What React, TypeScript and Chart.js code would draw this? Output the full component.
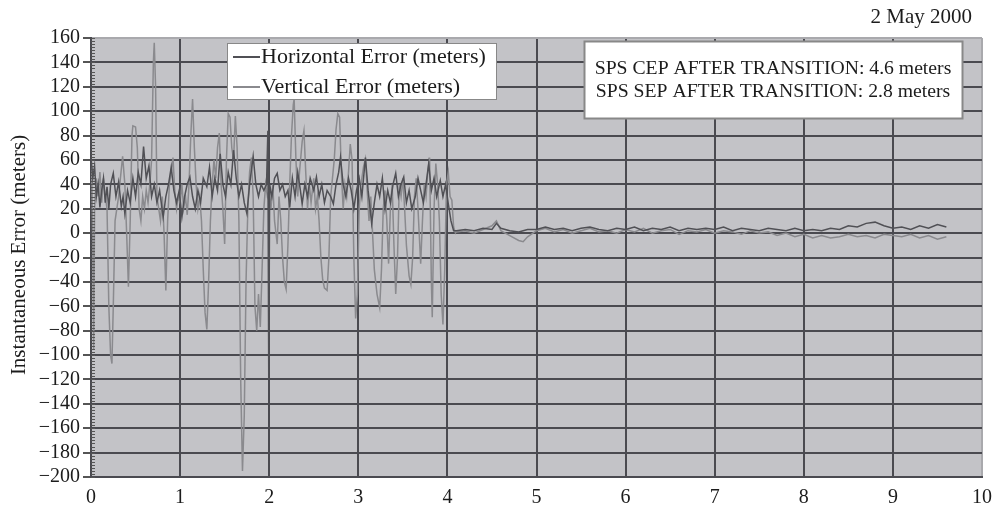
import React, { useEffect, useRef } from "react";
import { Chart, registerables } from "chart.js";

Chart.register(...registerables);

const FONT = "'Liberation Serif', 'Times New Roman', serif";

const chartDate = "2 May 2000";
const yAxisTitle = "Instantaneous Error (meters)";
const seriesNames = ["Horizontal Error (meters)", "Vertical Error (meters)"];
const noteLines = [
  "SPS CEP AFTER TRANSITION: 4.6 meters",
  "SPS SEP AFTER TRANSITION: 2.8 meters",
];
const xTicks = [0, 1, 2, 3, 4, 5, 6, 7, 8, 9, 10];
const yTicks = [160, 140, 120, 100, 80, 60, 40, 20, 0, -20, -40, -60, -80, -100, -120, -140, -160, -180, -200];

// [hours, meters]
const horizontalError: [number, number][] = [
  [0.0, 62], [0.02, 45], [0.04, 55], [0.06, 30], [0.08, 40], [0.1, 21], [0.12, 35], [0.14, 45], [0.16, 25], [0.18, 38],
  [0.2, 20], [0.22, 40], [0.25, 49], [0.28, 30], [0.31, 42], [0.34, 22], [0.36, 30], [0.38, 16], [0.41, 35], [0.44, 25],
  [0.47, 45], [0.5, 30], [0.53, 50], [0.56, 40], [0.59, 71], [0.62, 45], [0.65, 55], [0.68, 30], [0.71, 40], [0.74, 25],
  [0.77, 35], [0.81, 13], [0.84, 30], [0.87, 40], [0.9, 54], [0.93, 35], [0.96, 25], [0.99, 35], [1.02, 13], [1.05, 30],
  [1.08, 40], [1.11, 46], [1.14, 30], [1.17, 20], [1.2, 35], [1.23, 25], [1.26, 45], [1.3, 38], [1.33, 54], [1.36, 30],
  [1.39, 45], [1.42, 35], [1.45, 65], [1.48, 40], [1.51, 30], [1.54, 50], [1.57, 40], [1.6, 68], [1.63, 45], [1.66, 30],
  [1.69, 40], [1.72, 25], [1.75, 16], [1.78, 40], [1.82, 63], [1.85, 40], [1.88, 30], [1.91, 40], [1.94, 35], [1.97, 40],
  [1.985, 84], [1.995, -120], [2.005, 40], [2.03, 30], [2.06, 45], [2.09, 49], [2.12, 35], [2.15, 40], [2.18, 30], [2.21, 35],
  [2.23, 21], [2.26, 45], [2.29, 30], [2.32, 50], [2.35, 35], [2.37, 24], [2.4, 40], [2.43, 30], [2.46, 45], [2.5, 35],
  [2.53, 46], [2.56, 30], [2.59, 40], [2.62, 25], [2.65, 35], [2.69, 30], [2.72, 24], [2.75, 40], [2.78, 50], [2.8, 62],
  [2.83, 40], [2.86, 30], [2.89, 45], [2.92, 35], [2.95, 20], [2.98, 35], [3.01, 45], [3.04, 30], [3.08, 62], [3.11, 35],
  [3.15, 8], [3.18, 25], [3.21, 40], [3.24, 30], [3.27, 45], [3.3, 20], [3.33, 35], [3.36, 25], [3.39, 40], [3.42, 49],
  [3.45, 30], [3.48, 40], [3.51, 46], [3.54, 25], [3.57, 35], [3.6, 20], [3.64, 30], [3.67, 45], [3.7, 35], [3.73, 25],
  [3.76, 40], [3.79, 57], [3.82, 35], [3.85, 45], [3.88, 30], [3.92, 43], [3.95, 30], [3.98, 40], [4.01, 24], [4.04, 10],
  [4.07, 2], [4.1, 2], [4.2, 3], [4.3, 2], [4.4, 4], [4.5, 3], [4.55, 8], [4.6, 4], [4.7, 2], [4.8, 1],
  [4.9, 3], [5.0, 3], [5.1, 5], [5.2, 3], [5.3, 4], [5.4, 2], [5.5, 4], [5.6, 5], [5.7, 3], [5.8, 2],
  [5.9, 4], [6.0, 3], [6.1, 5], [6.2, 2], [6.3, 4], [6.4, 3], [6.5, 5], [6.6, 2], [6.7, 4], [6.8, 3],
  [6.9, 4], [7.0, 3], [7.1, 5], [7.2, 2], [7.3, 4], [7.4, 3], [7.5, 2], [7.6, 4], [7.7, 3], [7.8, 2],
  [7.9, 4], [8.0, 2], [8.1, 3], [8.2, 2], [8.3, 4], [8.4, 3], [8.5, 6], [8.6, 5], [8.7, 8], [8.8, 9],
  [8.9, 6], [9.0, 4], [9.1, 5], [9.2, 3], [9.3, 6], [9.4, 4], [9.5, 7], [9.6, 5],
];

const verticalError: [number, number][] = [
  [0.0, 55], [0.01, 40], [0.02, -10], [0.03, -95], [0.04, 20], [0.06, 45], [0.08, 30], [0.1, 50], [0.12, 25], [0.14, 45],
  [0.16, 30], [0.18, 20], [0.2, -60], [0.22, -100], [0.235, -107], [0.25, -60], [0.27, 10], [0.29, 20], [0.31, 30], [0.33, 45],
  [0.355, 63], [0.38, 40], [0.4, 0], [0.42, -44], [0.44, 10], [0.46, 80], [0.47, 88], [0.5, 87], [0.52, 70], [0.54, 20],
  [0.56, 10], [0.58, 30], [0.6, 20], [0.62, 35], [0.64, 25], [0.66, 40], [0.68, 60], [0.7, 140], [0.71, 156], [0.725, 120],
  [0.74, 30], [0.76, 20], [0.78, 10], [0.8, 30], [0.82, 0], [0.84, -47], [0.86, 10], [0.88, 40], [0.9, 50], [0.92, 62],
  [0.94, 35], [0.96, 20], [0.98, 30], [1.0, 25], [1.02, 40], [1.04, 20], [1.06, 30], [1.08, 15], [1.1, 40], [1.12, 80],
  [1.14, 110], [1.16, 70], [1.18, 40], [1.2, 20], [1.22, 30], [1.24, 10], [1.26, -30], [1.28, -65], [1.3, -79], [1.32, -40],
  [1.34, 10], [1.36, 40], [1.38, 60], [1.4, 45], [1.42, 70], [1.44, 82], [1.46, 40], [1.48, 20], [1.5, -9], [1.52, 60],
  [1.54, 98], [1.56, 95], [1.58, 70], [1.6, 60], [1.62, 96], [1.64, 70], [1.66, 10], [1.68, -120], [1.7, -195], [1.72, -150],
  [1.74, -40], [1.76, 20], [1.78, 50], [1.8, 62], [1.82, 30], [1.84, -60], [1.86, -80], [1.88, -50], [1.9, -77], [1.92, -30],
  [1.94, 20], [1.96, 40], [1.98, 30], [2.0, 35], [2.02, 20], [2.04, 40], [2.06, 10], [2.09, -9], [2.11, 30], [2.13, 10],
  [2.15, -20], [2.17, -40], [2.19, -46], [2.21, -10], [2.23, 40], [2.25, 80], [2.27, 105], [2.28, 110], [2.3, 60], [2.32, 30],
  [2.34, 50], [2.37, 75], [2.39, 84], [2.41, 50], [2.43, 20], [2.45, 40], [2.47, 25], [2.5, 45], [2.52, 20], [2.54, 30],
  [2.56, 10], [2.58, -20], [2.6, -38], [2.62, -45], [2.65, -47], [2.67, -20], [2.69, 30], [2.71, 45], [2.73, 60], [2.75, 85],
  [2.77, 98], [2.79, 95], [2.81, 50], [2.83, 20], [2.85, 40], [2.87, 30], [2.89, 50], [2.91, 73], [2.93, 60], [2.95, -20],
  [2.97, -70], [2.99, -50], [3.01, 20], [3.03, 40], [3.06, 55], [3.08, 61], [3.1, 35], [3.12, 10], [3.14, 30], [3.16, 0],
  [3.18, -30], [3.21, -50], [3.24, -61], [3.26, -30], [3.28, 20], [3.3, 35], [3.32, 10], [3.34, -25], [3.36, 20], [3.38, 40],
  [3.4, -10], [3.42, -50], [3.44, -20], [3.46, 40], [3.48, 30], [3.5, 45], [3.52, 20], [3.54, -10], [3.57, -35], [3.59, -42],
  [3.61, -20], [3.63, 30], [3.65, 45], [3.67, 20], [3.7, -25], [3.72, 10], [3.74, 40], [3.76, 30], [3.78, 50], [3.8, 62],
  [3.82, -40], [3.83, -69], [3.85, 20], [3.87, 57], [3.89, 40], [3.91, 10], [3.93, -50], [3.95, -75], [3.97, -30], [3.99, 40],
  [4.01, 50], [4.03, 30], [4.05, 27], [4.07, 5], [4.09, 0], [4.1, 1], [4.2, 2], [4.3, 0], [4.4, 3], [4.5, 6],
  [4.55, 10], [4.6, 2], [4.7, -2], [4.8, -6], [4.85, -7], [4.9, -3], [5.0, 2], [5.1, 4], [5.2, 1], [5.3, 3],
  [5.4, 0], [5.5, 2], [5.6, 4], [5.7, 1], [5.8, 2], [5.9, 0], [6.0, 3], [6.1, 1], [6.2, 4], [6.3, 0],
  [6.4, 2], [6.5, 3], [6.6, -1], [6.7, 2], [6.8, 1], [6.9, 3], [7.0, 0], [7.1, 2], [7.2, 1], [7.3, -1],
  [7.4, 2], [7.5, 0], [7.6, 1], [7.7, -2], [7.8, 0], [7.9, -3], [8.0, -1], [8.1, -4], [8.2, -2], [8.3, -4],
  [8.4, -3], [8.5, -1], [8.6, -3], [8.7, -2], [8.8, -4], [8.9, -1], [9.0, -2], [9.1, -3], [9.2, -1], [9.3, -4],
  [9.4, -2], [9.5, -5], [9.6, -3],
];

const PLOT_BG = "#c3c3c7";
const GRID = "#4a4a50";
const EDGE = "#a9a9ad";
const TEXT = "#1c1c1c";

const decorPlugin = {
  id: "decor",
  beforeDraw(chart: any) {
    const { ctx, chartArea: a } = chart;
    ctx.save();
    ctx.fillStyle = PLOT_BG;
    ctx.fillRect(a.left, a.top, a.right - a.left, a.bottom - a.top);
    ctx.restore();
  },
  afterDatasetsDraw(chart: any) {
    const { ctx, chartArea: a, scales } = chart;
    ctx.save();
    // minor ticks inside y axis
    ctx.strokeStyle = "#555";
    ctx.lineWidth = 1;
    for (let v = -200; v <= 160; v += 2.5) {
      const y = Math.round(scales.y.getPixelForValue(v)) + 0.5;
      ctx.beginPath();
      ctx.moveTo(a.left, y);
      ctx.lineTo(a.left + 4, y);
      ctx.stroke();
    }
    // legend box
    const lx = 227, ly = 43, lw = 269, lh = 56;
    ctx.fillStyle = "#fff";
    ctx.fillRect(lx, ly, lw, lh);
    ctx.strokeStyle = "#888";
    ctx.lineWidth = 1;
    ctx.strokeRect(lx + 0.5, ly + 0.5, lw, lh);
    const cols = ["#505055", "#8a8a8e"];
    const rowsY = [57, 87];
    ctx.font = `22px ${FONT}`;
    ctx.textBaseline = "middle";
    ctx.textAlign = "left";
    seriesNames.forEach((n, i) => {
      ctx.strokeStyle = cols[i];
      ctx.lineWidth = 2;
      ctx.beginPath();
      ctx.moveTo(233, rowsY[i]);
      ctx.lineTo(260, rowsY[i]);
      ctx.stroke();
      ctx.fillStyle = TEXT;
      ctx.fillText(n, 261, rowsY[i]);
    });
    // note box
    const nx = 584, ny = 41, nw = 378, nh = 77;
    ctx.fillStyle = "#fff";
    ctx.fillRect(nx, ny, nw, nh);
    ctx.strokeStyle = "#888";
    ctx.strokeRect(nx + 0.5, ny + 0.5, nw, nh);
    ctx.fillStyle = TEXT;
    ctx.font = `19.7px ${FONT}`;
    ctx.textAlign = "center";
    noteLines.forEach((t, i) => ctx.fillText(t, nx + nw / 2, 69 + i * 23));
    ctx.restore();
  },
  afterDraw(chart: any) {
    const { ctx } = chart;
    ctx.save();
    ctx.fillStyle = TEXT;
    ctx.font = `21px ${FONT}`;
    ctx.textBaseline = "middle";
    ctx.textAlign = "right";
    ctx.fillText(chartDate, 972, 17);
    ctx.translate(19, 255);
    ctx.rotate(-Math.PI / 2);
    ctx.textAlign = "center";
    ctx.fillText(yAxisTitle, 0, 0);
    ctx.restore();
  },
};

export default function App() {
  const ref = useRef<HTMLCanvasElement>(null);
  useEffect(() => {
    document.body.style.margin = "0";
    const toPts = (arr: [number, number][]) => arr.map(([x, y]) => ({ x, y }));
    const chart = new Chart(ref.current!, {
      type: "line",
      data: {
        datasets: [
          {
            label: seriesNames[0],
            data: toPts(horizontalError),
            borderColor: "#505055",
            borderWidth: 1.5,
            pointRadius: 0,
            tension: 0,
          },
          {
            label: seriesNames[1],
            data: toPts(verticalError),
            borderColor: "#8a8a8e",
            borderWidth: 1.5,
            pointRadius: 0,
            tension: 0,
          },
        ],
      },
      options: {
        animation: false,
        responsive: false,
        maintainAspectRatio: false,
        layout: { padding: { left: 0, right: 11, top: 38, bottom: 0 } },
        scales: {
          x: {
            type: "linear",
            min: 0,
            max: 10,
            afterBuildTicks: (s: any) => {
              s.ticks = xTicks.map((v) => ({ value: v }));
            },
            ticks: { color: TEXT, font: { family: FONT, size: 20 }, padding: 9, maxRotation: 0, autoSkip: false },
            grid: {
              drawTicks: false,
              lineWidth: 2,
              color: (c: any) => (c.tick && c.tick.value === 10 ? EDGE : GRID),
            },
            border: { display: true, color: GRID, width: 2 },
            afterFit: (s: any) => {
              s.height = 32;
              s.paddingLeft = 0;
              s.paddingRight = 0;
            },
          },
          y: {
            type: "linear",
            min: -200,
            max: 160,
            afterBuildTicks: (s: any) => {
              s.ticks = yTicks.map((v) => ({ value: v }));
            },
            ticks: {
              color: TEXT,
              font: { family: FONT, size: 20 },
              padding: 3,
              autoSkip: false,
              callback: (v: any) => String(v).replace("-", "\u2212"),
            },
            grid: {
              lineWidth: 2,
              tickLength: 8,
              tickColor: "#555",
              color: (c: any) => (c.tick && c.tick.value === 160 ? EDGE : GRID),
            },
            border: { display: true, color: GRID, width: 2 },
            afterFit: (s: any) => {
              s.width = 91;
              s.paddingTop = 0;
              s.paddingBottom = 0;
            },
          },
        },
        plugins: { legend: { display: false }, tooltip: { enabled: false } },
      },
      plugins: [decorPlugin],
    });
    return () => chart.destroy();
  }, []);
  return (
    <div style={{ width: 993, height: 509, background: "#fff" }}>
      <canvas ref={ref} width={993} height={509} style={{ display: "block" }} />
    </div>
  );
}
